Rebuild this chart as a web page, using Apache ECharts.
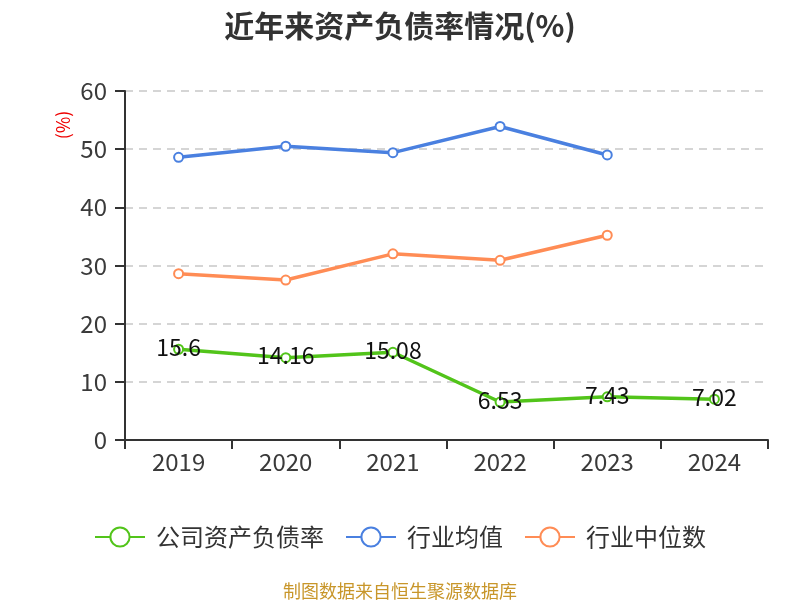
<!DOCTYPE html>
<html><head><meta charset="utf-8">
<script src="https://cdn.jsdelivr.net/npm/echarts@6/dist/echarts.min.js"></script>
<style>html,body{margin:0;padding:0;}#c{width:800px;height:600px;}</style>
</head><body><div id="c"></div>
<script>
var categories = ['2019','2020','2021','2022','2023','2024'];
var companyRatio = [15.6, 14.16, 15.08, 6.53, 7.43, 7.02];
var industryAvg = [48.6, 50.5, 49.4, 53.9, 49.0, null];
var industryMedian = [28.6, 27.5, 32.0, 30.9, 35.2, null];
var yTicks = [0, 10, 20, 30, 40, 50, 60];

var chart = echarts.init(document.getElementById('c'));
var font = '"Noto Sans CJK SC", "Noto Sans", sans-serif';
chart.setOption({
  backgroundColor: '#fff',
  title: [{
    text: '近年来资产负债率情况(%)', left: 'center', top: 6,
    textStyle: {fontSize: 30, fontWeight: 'bold', color: '#333', fontFamily: font}
  }, {
    text: '制图数据来自恒生聚源数据库', left: 'center', top: 577,
    textStyle: {fontSize: 18, fontWeight: 'normal', color: '#c8962a', fontFamily: font}
  }],
  legend: {
    top: 520, left: 'center', itemWidth: 50, itemHeight: 24, itemGap: 21,
    textStyle: {fontSize: 24, color: '#333', fontFamily: font, padding: [0, 0, 0, 6]},
    data: ['公司资产负债率', '行业均值', '行业中位数']
  },
  grid: {left: 125, right: 32, top: 91, bottom: 160},
  xAxis: {
    type: 'category', data: categories, boundaryGap: true,
    axisLine: {lineStyle: {color: '#333', width: 2}},
    axisTick: {show: true, length: 9, lineStyle: {color: '#333', width: 2}},
    axisLabel: {fontSize: 24, color: '#3a3a3a', margin: 10, fontFamily: font}
  },
  yAxis: {
    type: 'value', min: yTicks[0], max: yTicks[yTicks.length - 1], interval: 10,
    name: '(%)', nameLocation: 'end', nameRotate: 90, nameGap: -34,
    nameTextStyle: {color: '#e00', fontSize: 18, fontFamily: font, align: 'center', verticalAlign: 'bottom', padding: [0, 0, 53, 0]},
    axisLine: {show: true, lineStyle: {color: '#333', width: 2}},
    axisTick: {show: true, length: 10, lineStyle: {color: '#333', width: 2}},
    axisLabel: {fontSize: 24, color: '#3a3a3a', margin: 18, fontFamily: font},
    splitLine: {lineStyle: {type: [8, 6], color: '#c8c8c8', width: 1.5}}
  },
  series: [{
    name: '公司资产负债率', type: 'line', data: companyRatio,
    symbol: 'emptyCircle', symbolSize: 9,
    itemStyle: {color: '#52c41a'}, lineStyle: {width: 3.5, color: '#52c41a'},
    label: {show: true, position: 'inside', offset: [0, -2], fontSize: 23, color: '#111', fontFamily: font}
  }, {
    name: '行业均值', type: 'line', data: industryAvg,
    symbol: 'emptyCircle', symbolSize: 9,
    itemStyle: {color: '#4a80e0'}, lineStyle: {width: 3.5, color: '#4a80e0'}
  }, {
    name: '行业中位数', type: 'line', data: industryMedian,
    symbol: 'emptyCircle', symbolSize: 9,
    itemStyle: {color: '#ff8c55'}, lineStyle: {width: 3.5, color: '#ff8c55'}
  }]
});
</script></body></html>
